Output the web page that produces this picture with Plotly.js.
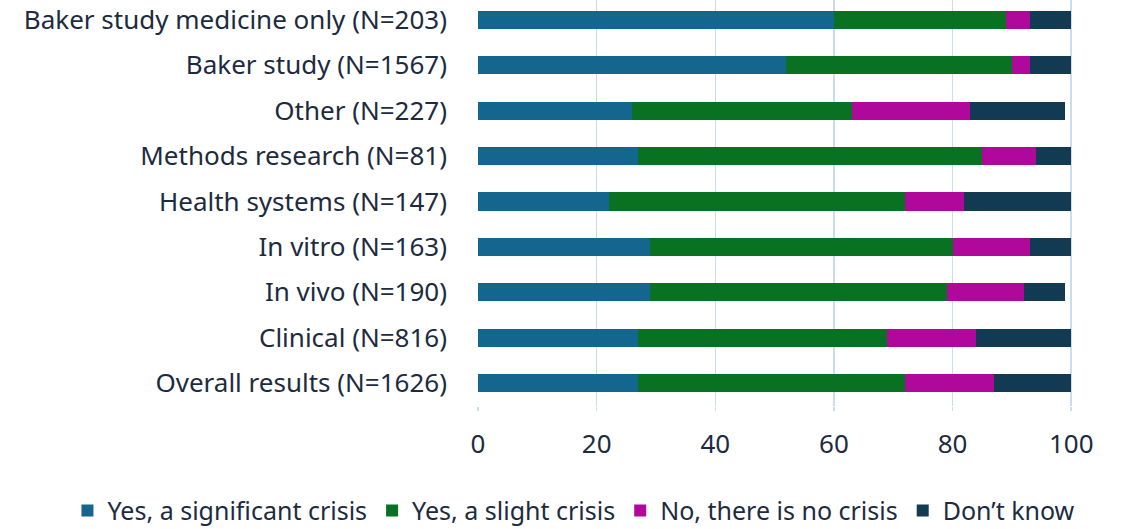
<!DOCTYPE html>
<html>
<head>
<meta charset="utf-8">
<script src="https://cdn.plot.ly/plotly-3.0.1.min.js"></script>
<style>html,body{margin:0;padding:0;background:#fff;}#chart{width:1125px;height:529px;}</style>
</head>
<body>
<div id="chart"></div>
<script>
// Categories listed bottom-to-top
const categories = [
  "Overall results (N=1626)",
  "Clinical (N=816)",
  "In vivo (N=190)",
  "In vitro (N=163)",
  "Health systems (N=147)",
  "Methods research (N=81)",
  "Other (N=227)",
  "Baker study (N=1567)",
  "Baker study medicine only (N=203)"
];
const seriesNames = ["Yes, a significant crisis", "Yes, a slight crisis", "No, there is no crisis", "Don\u2019t know"];
const significant = [27, 27, 29, 29, 22, 27, 26, 52, 60];
const slight      = [45, 42, 50, 51, 50, 58, 37, 38, 29];
const noCrisis    = [15, 15, 13, 13, 10,  9, 20,  3,  4];
const dontKnow    = [13, 16,  7,  7, 18,  6, 16,  7,  7];
const xTicks = [0, 20, 40, 60, 80, 100];

const colors = ["#14668e", "#087222", "#b1089c", "#123a52"];
const values = [significant, slight, noCrisis, dontKnow];

const traces = values.map((v, i) => ({
  type: "bar",
  orientation: "h",
  name: seriesNames[i],
  x: v,
  y: categories,
  marker: {color: colors[i], line: {width: 0}},
  hoverinfo: "x+name"
}));

const font = "Noto Sans, DejaVu Sans, sans-serif";
const txt = "#1d2b3f";
const layout = {
  width: 1125,
  height: 529,
  barmode: "stack",
  bargap: 0.6,
  showlegend: true,
  paper_bgcolor: "#ffffff",
  plot_bgcolor: "#ffffff",
  margin: {l: 478, r: 52, t: 0, b: 123, pad: 0, autoexpand: false},
  font: {family: font, color: txt, size: 26},
  xaxis: {
    range: [0, 100.3],
    tickvals: xTicks,
    ticktext: xTicks.map(String),
    showgrid: true,
    gridcolor: "#c9ddf1",
    gridwidth: 1.5,
    zeroline: false,
    showline: false,
    ticks: "outside",
    ticklen: 4,
    tickwidth: 1.5,
    tickcolor: "#c9ddf1",
    ticklabelstandoff: 11,
    tickfont: {size: 26, color: txt},
    fixedrange: true
  },
  yaxis: {
    type: "category",
    categoryorder: "array",
    categoryarray: categories,
    range: [-0.507, 8.44],
    showgrid: false,
    zeroline: false,
    showline: false,
    ticks: "",
    ticklabelstandoff: 30,
    tickfont: {size: 26, color: txt},
    fixedrange: true
  },
  legend: {
    orientation: "h",
    xref: "paper",
    x: -0.69,
    xanchor: "left",
    yref: "paper",
    y: -0.258,
    yanchor: "middle",
    font: {size: 25, color: txt},
    itemwidth: 30,
    traceorder: "normal",
    bgcolor: "rgba(0,0,0,0)"
  }
};

Plotly.newPlot("chart", traces, layout, {displayModeBar: false, staticPlot: true});
</script>
</body>
</html>
